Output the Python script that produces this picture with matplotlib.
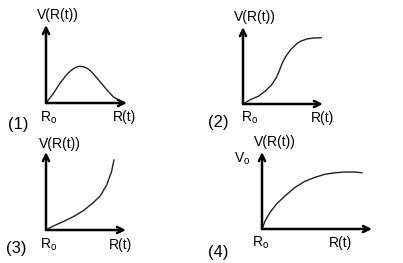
import numpy as np
import matplotlib
matplotlib.use("Agg")
from matplotlib import pyplot as plt

plt.rcParams['font.family'] = ['Liberation Sans', 'DejaVu Sans']

# curve samples, R and V as fractions of the axis length
r1 = [0.0, 0.09, 0.17, 0.26, 0.30, 0.34, 0.38, 0.42, 0.46, 0.50, 0.54, 0.58, 0.67, 0.75, 0.83, 0.91, 0.95]
v1 = [0.0, 0.12, 0.25, 0.37, 0.41, 0.44, 0.463, 0.47, 0.465, 0.45, 0.42, 0.38, 0.27, 0.17, 0.08, 0.03, 0.01]

r2 = [0.0, 0.10, 0.19, 0.27, 0.35, 0.41, 0.45, 0.49, 0.53, 0.56, 0.60, 0.64, 0.68, 0.72, 0.76, 0.80, 0.88, 0.98]
v2 = [0.0, 0.06, 0.10, 0.16, 0.24, 0.33, 0.42, 0.53, 0.61, 0.655, 0.71, 0.75, 0.79, 0.815, 0.83, 0.845, 0.857, 0.86]

r3 = [0.0, 0.09, 0.22, 0.34, 0.47, 0.59, 0.68, 0.76, 0.82, 0.85]
v3 = [0.0, 0.05, 0.11, 0.17, 0.25, 0.35, 0.44, 0.58, 0.75, 0.90]

r4 = [0.0, 0.03, 0.075, 0.135, 0.21, 0.30, 0.39, 0.48, 0.57, 0.66, 0.75, 0.84, 0.91]
v4 = [0.0, 0.11, 0.22, 0.33, 0.43, 0.54, 0.62, 0.67, 0.71, 0.73, 0.74, 0.74, 0.73]

curves = [(r1, v1), (r2, v2), (r3, v3), (r4, v4)]
numbers = ['(1)', '(2)', '(3)', '(4)']

W, H = 403, 263
fig = plt.figure(figsize=(W / 100, H / 100), dpi=100)

# axes boxes in pixels: origin x, origin y, x tip, y tip
boxes = [(46, 103, 127, 25), (243, 104, 323, 27),
         (46, 230, 126, 152), (262, 229, 372, 152)]

for (x0, y0, x1, y1), (r, v) in zip(boxes, curves):
    ax = fig.add_axes([x0 / W, 1 - y0 / H, (x1 - x0) / W, (y0 - y1) / H])
    ax.set_xlim(0, 1)
    ax.set_ylim(0, 1)
    ax.axis('off')
    ax.plot(r, v, color='#222222', lw=1.0, solid_capstyle='round',
            solid_joinstyle='round', clip_on=False)
    arr = dict(arrowstyle='->,head_length=0.45,head_width=0.22', lw=1.8,
               color='black', shrinkA=0, shrinkB=0)
    ax.annotate('', xy=(1, 0), xytext=(0, 0), xycoords='axes fraction', arrowprops=arr)
    ax.annotate('', xy=(0, 1), xytext=(0, 0), xycoords='axes fraction', arrowprops=arr)


def label(x, y, s, size=10):
    fig.text(x / W, 1 - y / H, s, ha='center', va='center', fontsize=size)


# (center x, center y) of each text in pixels
vlab = [(58, 15), (255, 17), (60, 144), (275, 142)]
nlab = [(18, 124), (218, 123), (16, 248), (218, 252)]
rolab = [(49, 118), (250, 118), (49, 245), (261, 243)]
rtlab = [(125, 117), (322, 118), (121, 245), (340, 243)]

for i in range(4):
    label(*vlab[i], 'V(R(t))')
    label(*nlab[i], numbers[i], size=12)
    label(*rolab[i], r'R$_{\mathregular{o}}$')
    label(*rtlab[i], 'R(t)')
label(242, 159, r'V$_{\mathregular{o}}$')

plt.savefig('out.png', dpi=100)
